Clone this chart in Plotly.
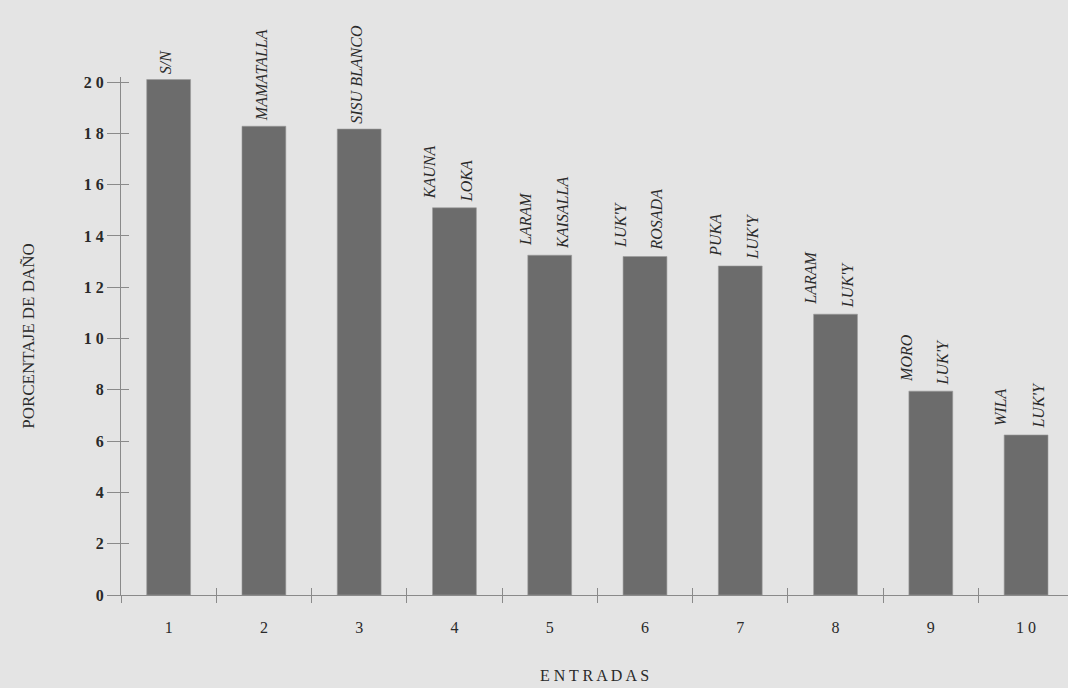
import plotly.graph_objects as go

entradas = [1, 2, 3, 4, 5, 6, 7, 8, 9, 10]
dano = [20.1, 18.28, 18.17, 15.1, 13.25, 13.2, 12.83, 10.95, 7.95, 6.24]
nombre_1 = ["S/N", "MAMATALLA", "SISU BLANCO", "KAUNA", "LARAM", "LUK'Y", "PUKA", "LARAM", "MORO", "WILA"]
nombre_2 = ["", "", "", "LOKA", "KAISALLA", "ROSADA", "LUK'Y", "LUK'Y", "LUK'Y", "LUK'Y"]
y_ticks = [0, 2, 4, 6, 8, 10, 12, 14, 16, 18, 20]
y_ticktext = ["0", "2", "4", "6", "8", "1 0", "1 2", "1 4", "1 6", "1 8", "2 0"]
x_ticktext = ["1", "2", "3", "4", "5", "6", "7", "8", "9", "1 0"]

BG = "#e4e4e4"
BAR = "#6c6c6c"
INK = "#2a2a2a"
AX = "#8a8a8a"
SERIF = "Liberation Serif, Times New Roman, serif"

fig = go.Figure()
fig.add_trace(go.Bar(
    x=entradas, y=dano, width=0.46,
    marker=dict(color=BAR, line=dict(color="#9a9a9a", width=0.6)),
    showlegend=False, hoverinfo="x+y",
))

lab_font = dict(family=SERIF, size=16, color=INK, style="italic")
ann = []
for x, v, a, b in zip(entradas, dano, nombre_1, nombre_2):
    if b:
        ann.append(dict(x=x, y=v, text=a, xshift=-25, yshift=7, yanchor="bottom",
                        textangle=-90, showarrow=False, font=lab_font))
        ann.append(dict(x=x, y=v, text=b, xshift=12, yshift=4, yanchor="bottom",
                        textangle=-90, showarrow=False, font=lab_font))
    else:
        ann.append(dict(x=x, y=v, text=a, xshift=-3, yshift=3, yanchor="bottom",
                        textangle=-90, showarrow=False, font=lab_font))

boundaries = [i + 0.5 for i in range(0, 11)]
xr = [0.5, 10.44]

fig.update_layout(
    width=1068, height=688,
    paper_bgcolor=BG, plot_bgcolor=BG,
    margin=dict(l=121, r=0, t=77, b=93),
    annotations=ann,
    xaxis=dict(
        range=xr, tickvals=entradas, ticktext=x_ticktext, ticks="",
        showgrid=False, zeroline=False, showline=True, linecolor=AX, linewidth=1.2,
        tickfont=dict(family=SERIF, size=16, color=INK),
        ticklabelstandoff=18,
        title=dict(text="E N T R A D A S", font=dict(family=SERIF, size=16, color=INK), standoff=34),
    ),
    xaxis2=dict(
        range=xr, overlaying="x", side="bottom", tickvals=boundaries, ticks="outside",
        ticklen=7, tickcolor=AX, showticklabels=False, showgrid=False, zeroline=False,
        anchor="y",
    ),
    xaxis3=dict(
        range=xr, overlaying="x", side="bottom", tickvals=boundaries, ticks="inside",
        ticklen=7, tickcolor=AX, showticklabels=False, showgrid=False, zeroline=False,
        anchor="y",
    ),
    yaxis=dict(
        range=[0, 20.2], tickvals=y_ticks, ticktext=y_ticktext, ticks="outside",
        ticklen=13, tickcolor=AX, showgrid=False, zeroline=False,
        showline=True, linecolor=AX, linewidth=1.2,
        tickfont=dict(family=SERIF, size=16, color=INK, weight="bold"),
        title=dict(text="PORCENTAJE DE DAÑO", font=dict(family=SERIF, size=17, color=INK), standoff=44),
    ),
    yaxis2=dict(
        range=[0, 20.2], overlaying="y", side="left", tickvals=y_ticks, ticks="inside",
        ticklen=8, tickcolor=AX, showticklabels=False, showgrid=False, zeroline=False,
        anchor="x",
    ),
)
fig.add_trace(go.Scatter(x=[1], y=[0], xaxis="x2", yaxis="y", mode="markers",
                         marker=dict(opacity=0), showlegend=False, hoverinfo="skip"))
fig.add_trace(go.Scatter(x=[1], y=[0], xaxis="x3", yaxis="y2", mode="markers",
                         marker=dict(opacity=0), showlegend=False, hoverinfo="skip"))

fig.write_html("out.html",
               config={"displayModeBar": False},
               post_script="document.body.style.margin='0';document.body.style.overflow='hidden';document.body.style.background='" + BG + "';")
